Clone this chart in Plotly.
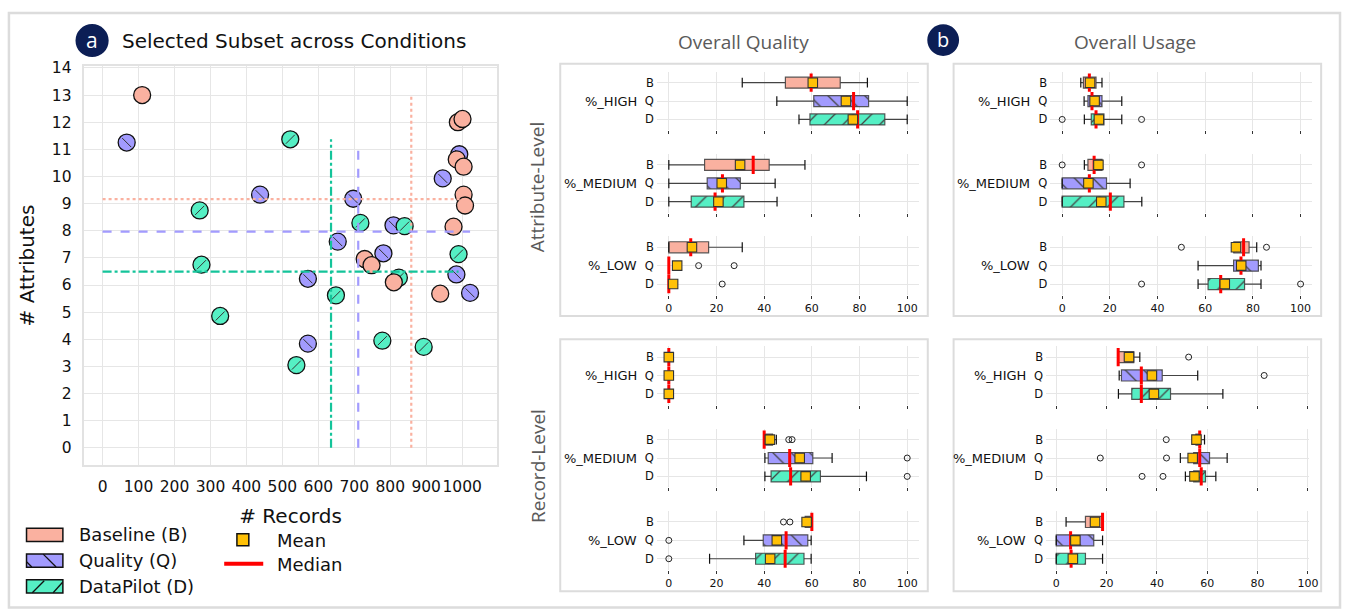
import plotly.graph_objects as go

# ---------------- data: panel a (scatter) ----------------
baseline_records = [110, 988, 1001, 985, 1004, 1004, 1008, 976, 729, 748, 810, 939]
baseline_attrs = [13.0, 12.0, 12.12, 10.63, 10.36, 9.33, 8.93, 8.15, 6.96, 6.73, 6.1, 5.68]
quality_records = [67, 438, 697, 992, 946, 809, 781, 654, 571, 984, 1022, 571]
quality_attrs = [11.25, 9.33, 9.18, 10.82, 9.93, 8.2, 7.17, 7.6, 6.23, 6.39, 5.71, 3.84]
datapilot_records = [522, 270, 717, 840, 990, 275, 824, 649, 327, 778, 893, 539]
datapilot_attrs = [11.37, 8.75, 8.29, 8.17, 7.14, 6.75, 6.27, 5.62, 4.86, 3.95, 3.72, 3.05]

x_ticks = list(range(0, 1001, 100))
y_ticks = list(range(0, 15))

# ---------------- data: panel b (box stats) ----------------
conditions = ["B", "Q", "D"]
groups = ["%_HIGH", "%_MEDIUM", "%_LOW"]
box_ticks = [0, 20, 40, 60, 80, 100]

# order: HIGH B,Q,D / MEDIUM B,Q,D / LOW B,Q,D
# Attribute-level, overall quality
aq_lo = [30.8, 45.3, 54.6, 0, 0, 0, 0, 0, 0]
aq_q1 = [48.9, 60.8, 59.2, 15.0, 16.1, 9.4, 0, 0, 0]
aq_med = [59.7, 77.5, 79.2, 35.4, 22.5, 19.4, 9.2, 0, 0]
aq_q3 = [71.9, 83.8, 90.6, 42.1, 30.0, 31.5, 16.7, 0, 0]
aq_hi = [83.3, 100, 100, 57.1, 44.6, 45.4, 30.8, 0, 0]
aq_mean = [60.4, 74.3, 77.2, 29.9, 22.2, 20.8, 9.7, 3.5, 1.8]
aq_out = [[], [], [], [], [], [], [], [12.5, 27.4], [22.4]]

# Attribute-level, overall usage
au_lo = [7.8, 9.2, 9.3, 9.3, 0, 0, 72.0, 57.0, 57.0]
au_q1 = [8.9, 10.8, 12.2, 10.8, 0, 0, 72.0, 71.9, 61.2]
au_med = [11.4, 12.5, 14.2, 13.4, 11.4, 20.2, 76.1, 75.0, 66.5]
au_q3 = [14.2, 16.7, 17.5, 16.7, 18.6, 25.9, 78.4, 82.3, 76.5]
au_hi = [16.7, 25.0, 25.0, 16.7, 28.5, 33.4, 81.6, 83.4, 83.4]
au_mean = [11.7, 13.6, 15.4, 15.2, 11.0, 16.4, 72.9, 75.1, 68.2]
au_out = [[], [], [0, 33.3], [0, 33.3], [], [], [50, 85.7], [], [33.3, 100]]

# Record-level, overall quality
rq_lo = [0, 0, 0, 40.0, 40.3, 40.3, 56.7, 31.5, 17.1]
rq_q1 = [0, 0, 0, 40.0, 41.7, 42.9, 57.2, 39.6, 36.4]
rq_med = [0, 0, 0, 40.0, 50.7, 51.1, 60.0, 49.2, 48.8]
rq_q3 = [0, 0, 0, 43.5, 60.4, 63.6, 60.0, 58.3, 56.7]
rq_hi = [0, 0, 0, 45.1, 68.5, 82.9, 60.0, 59.7, 59.7]
rq_mean = [0, 0, 0, 42.4, 54.9, 57.4, 57.8, 45.3, 42.5]
rq_out = [[], [], [], [50.3, 51.7], [100], [100], [48.1, 50.8], [0], [0]]

# Record-level, overall usage
ru_lo = [24.6, 25.0, 24.7, 55.5, 49.3, 51.3, 3.9, 0, 0]
ru_q1 = [24.6, 25.9, 30.0, 55.5, 54.6, 54.6, 11.6, 0, 0]
ru_med = [24.6, 33.8, 33.8, 57.0, 57.0, 57.6, 18.4, 5.7, 5.9]
ru_q3 = [30.8, 42.1, 45.4, 57.2, 60.9, 59.3, 18.4, 14.9, 11.6]
ru_hi = [33.2, 56.2, 66.2, 58.9, 67.9, 63.4, 18.4, 18.4, 18.4]
ru_mean = [28.9, 38.0, 38.8, 55.7, 54.2, 54.9, 15.4, 7.6, 6.6]
ru_out = [[52.6], [82.6], [], [43.7], [17.5, 43.8], [34.1, 42.4], [], [], []]

# ---------------- styling ----------------
W, H = 1351, 609
FONT = "DejaVu Sans"
C_B, C_Q, C_D = "#fab1a0", "#a29bfe", "#55efc4"
L_B, L_Q, L_D = "#fab1a0", "#a29bfe", "#14c49a"
MEAN_C = "#FFC107"
GRID = "#e6e6e6"
FRAME = "#dcdcdc"
NAVY = "#0c1e55"


def px(x):
    return x / W


def py(y):
    return 1 - y / H


fig = go.Figure()
layout = dict(
    width=W, height=H, margin=dict(l=0, r=0, t=0, b=0),
    paper_bgcolor="white", plot_bgcolor="white", showlegend=False,
    font=dict(family=FONT, color="#111"),
)
shapes, annotations = [], []

# ---------------- panel a: scatter ----------------
scatter_sets = [
    (quality_records, quality_attrs, C_Q, "line-nw"),
    (datapilot_records, datapilot_attrs, C_D, "line-ne"),
    (baseline_records, baseline_attrs, C_B, None),
]
for xs, ys, col, hatch in scatter_sets:
    fig.add_trace(go.Scatter(
        x=xs, y=ys, mode="markers", xaxis="x", yaxis="y", hoverinfo="skip",
        marker=dict(size=17, color=col, line=dict(color="#111", width=1.3))))
    if hatch:
        fig.add_trace(go.Scatter(
            x=xs, y=ys, mode="markers", xaxis="x", yaxis="y", hoverinfo="skip",
            marker=dict(size=9, symbol=hatch, line=dict(color="#333", width=1))))

line_sets = [
    (baseline_records, baseline_attrs, L_B, "dot"),
    (quality_records, quality_attrs, L_Q, "dash"),
    (datapilot_records, datapilot_attrs, L_D, "dashdot"),
]
for xs, ys, col, dash in line_sets:
    mx = sum(xs) / len(xs)
    my = sum(ys) / len(ys)
    fig.add_trace(go.Scatter(
        x=[0, max(xs), None, mx, mx], y=[my, my, None, 0, max(ys)],
        mode="lines", xaxis="x", yaxis="y", hoverinfo="skip",
        line=dict(color=col, width=2.2, dash=dash)))

layout["xaxis"] = dict(
    domain=[px(85), px(500)], range=[-50.5, 1096], anchor="y",
    tickmode="array", tickvals=x_ticks, tickangle=0,
    showgrid=True, gridcolor=GRID, gridwidth=1, zeroline=False,
    showline=True, mirror=True, linecolor="#e2e2e2", linewidth=1.5,
    ticks="", ticklabelstandoff=7, tickfont=dict(family=FONT, size=15.5, color="#111"),
    title=dict(text="# Records", font=dict(family=FONT, size=20, color="#111"), standoff=14),
)
layout["yaxis"] = dict(
    domain=[py(463), py(60)], range=[-0.62, 14.06], anchor="x",
    tickmode="array", tickvals=y_ticks,
    showgrid=True, gridcolor=GRID, gridwidth=1, zeroline=False,
    showline=True, mirror=True, linecolor="#e2e2e2", linewidth=1.5,
    ticks="", ticklabelstandoff=8, tickfont=dict(family=FONT, size=15.5, color="#111"),
    title=dict(text="# Attributes", font=dict(family=FONT, size=20, color="#111"), standoff=12),
)

# panel a header
shapes.append(dict(type="circle", xref="paper", yref="paper",
                   x0=px(76), x1=px(109.4), y0=py(50.7), y1=py(17.3),
                   fillcolor=NAVY, line=dict(width=0)))
annotations.append(dict(text="a", xref="paper", yref="paper", x=px(92.7), y=py(33),
                        showarrow=False, font=dict(family="Open Sans", size=21, color="white"),
                        xanchor="center", yanchor="middle"))
annotations.append(dict(text="Selected Subset across Conditions", xref="paper", yref="paper",
                        x=px(121), y=py(34), showarrow=False, xanchor="left", yanchor="middle",
                        font=dict(family=FONT, size=20, color="#111")))

# legend for panel a
leg_rows = [(534, C_B, "Baseline (B)"), (560, C_Q, "Quality (Q)"), (586, C_D, "DataPilot (D)")]
for yy, col, lab in leg_rows:
    shapes.append(dict(type="rect", xref="paper", yref="paper",
                       x0=px(26.7), x1=px(63.3), y0=py(yy + 6.7), y1=py(yy - 6.7),
                       fillcolor=col, line=dict(color="#111", width=1.5)))
    annotations.append(dict(text=lab, xref="paper", yref="paper", x=px(78), y=py(yy),
                            showarrow=False, xanchor="left", yanchor="middle",
                            font=dict(family=FONT, size=18, color="#111")))
for (x0, y0, x1, y1) in [(43.5, 553.5, 56.5, 566.5), (27, 561.5, 32, 566.5),
                         (32.5, 592.5, 44.5, 580.5), (53.5, 592.5, 63, 582)]:
    shapes.append(dict(type="line", xref="paper", yref="paper",
                       x0=px(x0), y0=py(y0), x1=px(x1), y1=py(y1),
                       line=dict(color="#111", width=1.3)))
shapes.append(dict(type="rect", xref="paper", yref="paper",
                   x0=px(238.5), x1=px(250.5), y0=py(545), y1=py(533),
                   fillcolor=MEAN_C, line=dict(color="#111", width=1.5)))
shapes.append(dict(type="line", xref="paper", yref="paper",
                   x0=px(225.7), x1=px(265), y0=py(563.3), y1=py(563.3),
                   line=dict(color="#ff0000", width=4)))
annotations.append(dict(text="Mean", xref="paper", yref="paper", x=px(276.5), y=py(539.5),
                        showarrow=False, xanchor="left", yanchor="middle",
                        font=dict(family=FONT, size=18, color="#111")))
annotations.append(dict(text="Median", xref="paper", yref="paper", x=px(276.5), y=py(563.5),
                        showarrow=False, xanchor="left", yanchor="middle",
                        font=dict(family=FONT, size=18, color="#111")))

# ---------------- panel b: box plots ----------------
panels = [
    (dict(lo=aq_lo, q1=aq_q1, med=aq_med, q3=aq_q3, hi=aq_hi, mean=aq_mean, out=aq_out),
     (661.3, 925.3), [-5, 105], [65.4, 148.6, 231.9]),
    (dict(lo=au_lo, q1=au_q1, med=au_med, q3=au_q3, hi=au_hi, mean=au_mean, out=au_out),
     (1057.3, 1321.3), [-5, 105], [65.4, 148.6, 231.9]),
    (dict(lo=rq_lo, q1=rq_q1, med=rq_med, q3=rq_q3, hi=rq_hi, mean=rq_mean, out=rq_out),
     (661.3, 925.3), [-5, 105], [343.0, 426.5, 509.8]),
    (dict(lo=ru_lo, q1=ru_q1, med=ru_med, q3=ru_q3, hi=ru_hi, mean=ru_mean, out=ru_out),
     (1053.2, 1318.0), [-4, 100.5], [343.0, 426.5, 509.8]),
]
fills = [C_B, C_Q, C_D]
hatches = ["", "\\", "/"]
ROW = 18.6
GH = 3.2 * ROW

k = 2
for st, (xl, xr), xrng, tops in panels:
    for g in range(3):
        xa, ya = f"xaxis{k}", f"yaxis{k}"
        xref, yref = f"x{k}", f"y{k}"
        top = tops[g]
        idx = [3 * g + c for c in range(3)]
        lo = [st["lo"][i] for i in idx]
        q1 = [st["q1"][i] for i in idx]
        med = [st["med"][i] for i in idx]
        q3 = [st["q3"][i] for i in idx]
        hi = [st["hi"][i] for i in idx]
        mean = [st["mean"][i] for i in idx]
        outs = [st["out"][i] for i in idx]

        layout[xa] = dict(
            domain=[px(xl), px(xr)], range=xrng, anchor=yref,
            tickmode="array", tickvals=box_ticks,
            showgrid=True, gridcolor=GRID, gridwidth=1, zeroline=False, showline=False,
            showticklabels=(g == 2), ticks="outside", ticklen=3, tickwidth=1, tickcolor="#333",
            tickfont=dict(family=FONT, size=11, color="#111"),
        )
        layout[ya] = dict(
            domain=[py(top + GH), py(top)], anchor=xref, type="category",
            categoryorder="array", categoryarray=conditions, range=[2.6, -0.6],
            showgrid=True, gridcolor=GRID, gridwidth=1, zeroline=False, showline=False,
            ticks="", ticklabelstandoff=2, tickfont=dict(family=FONT, size=11.5, color="#111"),
        )
        # boxes
        fig.add_trace(go.Bar(
            y=conditions, x=[b - a for a, b in zip(q1, q3)], base=q1, orientation="h",
            width=0.6, xaxis=xref, yaxis=yref, hoverinfo="skip",
            marker=dict(color=fills, line=dict(color="rgba(60,60,60,0.85)", width=1.2),
                        pattern=dict(shape=hatches, size=13, solidity=0.1,
                                     fgcolor="#1a1a1a", fgopacity=1, bgcolor=fills,
                                     fillmode="overlay"))))
        # whiskers
        wx, wy = [], []
        for c in range(3):
            wx += [lo[c], q1[c], None, q3[c], hi[c], None]
            wy += [conditions[c], conditions[c], None, conditions[c], conditions[c], None]
        fig.add_trace(go.Scatter(x=wx, y=wy, mode="lines", xaxis=xref, yaxis=yref,
                                 hoverinfo="skip", line=dict(color="#444", width=1.2)))
        fig.add_trace(go.Scatter(
            x=lo + hi, y=conditions + conditions, mode="markers", xaxis=xref, yaxis=yref,
            hoverinfo="skip",
            marker=dict(symbol="line-ns", size=7, line=dict(color="#111", width=1.2))))
        # medians
        fig.add_trace(go.Scatter(
            x=med, y=conditions, mode="markers", xaxis=xref, yaxis=yref, hoverinfo="skip",
            marker=dict(symbol="line-ns", size=13, line=dict(color="#ff0000", width=3))))
        # means
        fig.add_trace(go.Scatter(
            x=mean, y=conditions, mode="markers", xaxis=xref, yaxis=yref, hoverinfo="skip",
            marker=dict(symbol="square", size=9.5, color=MEAN_C,
                        line=dict(color="#333", width=1.1))))
        # outliers
        ox, oy = [], []
        for c in range(3):
            ox += outs[c]
            oy += [conditions[c]] * len(outs[c])
        if ox:
            fig.add_trace(go.Scatter(
                x=ox, y=oy, mode="markers", xaxis=xref, yaxis=yref, hoverinfo="skip",
                marker=dict(symbol="circle-open", size=6, color="#222",
                            line=dict(color="#222", width=1))))
        # group label
        annotations.append(dict(text=groups[g], xref="paper", yref="paper",
                                x=px(xl - 18), y=py(top + 1.6 * ROW), showarrow=False,
                                xanchor="right", yanchor="middle",
                                font=dict(family=FONT, size=13, color="#111")))
        k += 1

# box frames
for (x0, y0, x1, y1) in [(564, 57.5, 934, 312.5), (960, 57.5, 1330, 312.5),
                         (564, 336, 934, 591), (960, 336, 1330, 591)]:
    shapes.append(dict(type="rect", xref="paper", yref="paper",
                       x0=px(x0), x1=px(x1), y0=py(y1), y1=py(y0),
                       line=dict(color=FRAME, width=2), fillcolor="rgba(0,0,0,0)", layer="below"))
# outer frame
shapes.append(dict(type="rect", xref="paper", yref="paper",
                   x0=px(9), x1=px(1349), y0=py(607.5), y1=py(6),
                   line=dict(color=FRAME, width=2.5), fillcolor="rgba(0,0,0,0)", layer="below"))

# panel b headers
shapes.append(dict(type="circle", xref="paper", yref="paper",
                   x0=px(933.5), x1=px(965.5), y0=py(49.5), y1=py(17.5),
                   fillcolor=NAVY, line=dict(width=0)))
annotations.append(dict(text="b", xref="paper", yref="paper", x=px(949.5), y=py(33),
                        showarrow=False, font=dict(family="Open Sans", size=20, color="white"),
                        xanchor="center", yanchor="middle"))
for txt, xx in [("Overall Quality", 748), ("Overall Usage", 1143)]:
    annotations.append(dict(text=txt, xref="paper", yref="paper", x=px(xx), y=py(35),
                            showarrow=False, xanchor="center", yanchor="middle",
                            font=dict(family="Open Sans", size=19, color="#5a5a5a")))
for txt, yy in [("Attribute-Level", 182), ("Record-Level", 464)]:
    annotations.append(dict(text=txt, xref="paper", yref="paper", x=px(541), y=py(yy),
                            showarrow=False, xanchor="center", yanchor="middle", textangle=-90,
                            font=dict(family="Open Sans", size=19, color="#5a5a5a")))

layout["shapes"] = shapes
layout["annotations"] = annotations
fig.update_layout(**layout)
post = (
    "document.documentElement.style.margin='0';document.documentElement.style.overflow='hidden';"
    "document.body.style.margin='0';document.body.style.padding='0';document.body.style.overflow='hidden';"
    "var gd=document.getElementById('{plot_id}');gd.style.position='fixed';gd.style.left='0px';gd.style.top='0px';"
)
fig.write_html("out.html", config={"displayModeBar": False}, post_script=post)
